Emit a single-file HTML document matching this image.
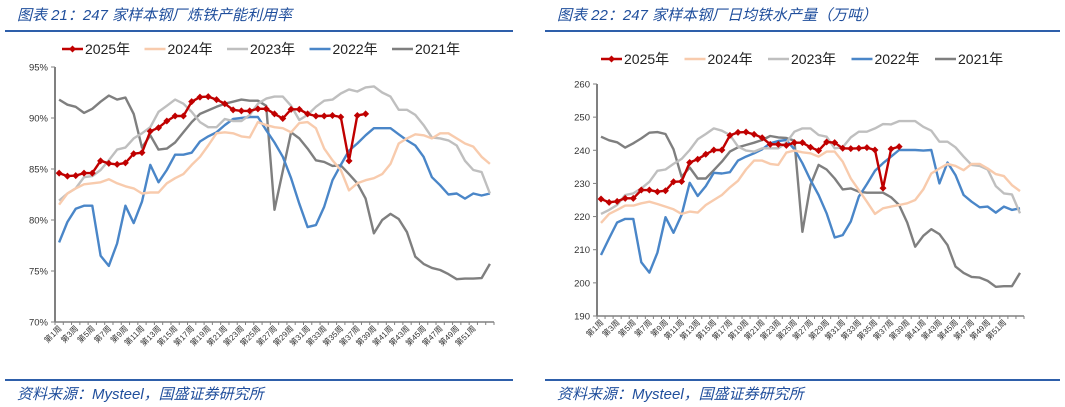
<!DOCTYPE html>
<html><head><meta charset="utf-8">
<style>
body{margin:0;background:#fff;width:1065px;height:407px;overflow:hidden;font-family:"Liberation Sans","Noto Sans CJK SC",sans-serif;}
.t{position:absolute;font-style:italic;color:#1f4e9c;font-size:15px;white-space:nowrap;font-family:"Liberation Sans","Noto Sans CJK SC",sans-serif;}
.hr{position:absolute;height:2px;background:#2e5faa;}
svg{position:absolute;left:0;top:0;}
</style></head><body>
<div class="t" style="left:17px;top:4px;">图表 21：247 家样本钢厂炼铁产能利用率</div>
<div class="hr" style="left:5px;top:30px;width:508px;"></div>
<div class="t" style="left:557px;top:4px;">图表 22：247 家样本钢厂日均铁水产量（万吨）</div>
<div class="hr" style="left:545px;top:30px;width:515px;"></div>
<div class="hr" style="left:5px;top:379px;width:508px;"></div>
<div class="hr" style="left:545px;top:379px;width:515px;"></div>
<div class="t" style="left:17px;top:383px;">资料来源：Mysteel，国盛证券研究所</div>
<div class="t" style="left:557px;top:383px;">资料来源：Mysteel，国盛证券研究所</div>
<svg id="svg" width="1065" height="407"></svg>
<script>
// ---- Left chart data (%) ----
const leftY2025 = [84.6,84.3,84.35,84.6,84.6,85.8,85.55,85.45,85.6,86.5,86.6,88.7,89.05,89.7,90.2,90.2,91.6,92.05,92.1,91.8,91.4,90.8,90.7,90.7,90.9,90.9,90.4,89.95,90.85,90.85,90.4,90.2,90.2,90.25,90.1,85.8,90.25,90.4];
const leftY2024 = [81.5,82.6,83.1,83.5,83.6,83.7,84.0,83.6,83.3,83.1,82.6,82.7,82.7,83.6,84.1,84.5,85.4,86.2,87.3,88.5,88.6,88.5,88.2,88.1,89.6,89.3,89.1,89.0,88.6,89.5,89.6,89.0,87.0,85.85,84.9,82.9,83.6,83.9,84.1,84.5,85.5,87.5,88.0,88.4,88.3,88.0,88.5,88.5,88.0,87.5,87.2,86.2,85.5];
const leftY2023 = [81.9,82.6,83.1,84.2,84.3,84.9,85.85,86.9,87.1,88.0,88.5,89.1,90.6,91.2,91.8,91.4,90.6,89.6,89.1,89.1,89.9,89.7,89.7,90.3,91.4,91.9,92.1,92.1,91.2,89.8,90.3,91.1,91.7,91.8,92.4,92.8,92.6,93.0,93.1,92.5,92.1,90.8,90.8,90.3,89.3,88.1,88.0,87.8,87.3,85.8,84.9,84.7,82.6];
const leftY2022 = [77.8,79.8,81.1,81.4,81.4,76.5,75.5,77.7,81.4,79.7,81.8,85.4,83.7,84.9,86.4,86.4,86.6,87.7,88.2,88.6,89.3,89.9,90.0,90.1,90.1,88.8,87.6,86.2,84.1,81.6,79.3,79.5,81.3,83.9,85.4,86.8,87.5,88.3,89.0,89.0,89.0,88.4,87.8,87.3,86.2,84.2,83.4,82.5,82.6,82.1,82.6,82.4,82.6];
const leftY2021 = [91.8,91.3,91.1,90.5,90.9,91.6,92.2,91.8,92.0,90.4,87.1,88.3,86.9,87.0,87.6,88.6,89.6,90.4,90.75,91.1,91.4,91.6,91.8,91.7,91.7,91.2,81.0,84.8,88.6,88.0,87.0,85.85,85.7,85.3,85.35,84.5,83.6,82.1,78.7,80.0,80.6,80.1,78.8,76.4,75.7,75.3,75.1,74.7,74.2,74.25,74.25,74.3,75.7];
const leftTicks = [70,75,80,85,90,95];
// ---- Right chart data (万吨) ----
const rightY2025 = [225.3,224.3,224.6,225.5,225.5,228,228,227.5,227.8,230.5,230.6,236.3,237.3,238.8,240.1,240.1,244.5,245.4,245.5,244.8,243.8,241.8,241.8,241.5,242.3,242.3,240.9,239.9,242.5,242.3,240.6,240.5,240.6,240.8,240.1,228.6,240.4,241.1];
const rightY2024 = [218.1,220.8,222.0,223.3,223.3,224.0,224.5,223.8,223.0,222.2,220.8,221.5,221.2,223.5,225.0,226.5,228.8,230.8,234.2,236.9,236.9,235.9,235.6,239.3,239.9,239.4,239.1,238.1,239.6,239.6,236.6,231.5,228.0,224.5,220.8,222.5,223.0,223.5,224.0,225.0,228.2,233.0,234.5,235.9,235.3,234.0,235.9,235.9,234.5,232.8,232.2,229.5,227.7];
const rightY2023 = [220.8,222.0,223.5,226.5,227.0,228.5,230.5,233.8,234.2,235.9,237.4,240.1,243.3,244.9,246.6,245.9,244.6,241.1,239.9,239.6,240.6,240.6,240.6,242.3,245.6,246.6,246.6,244.6,244.1,240.6,240.9,243.9,245.6,245.6,246.6,247.9,247.8,248.8,248.8,248.8,247.1,245.9,242.6,242.6,240.9,238.1,235.6,235.3,234.2,229.2,227.0,226.7,221.0];
const rightY2022 = [208.4,213.4,218.2,219.3,219.3,206.2,203.1,209.1,219.8,215.1,220.5,230.2,226.2,229.2,233.2,233.0,233.4,236.9,238.1,239.1,240.3,242.1,242.8,243.1,240.3,236.1,231.0,226.5,221.0,213.7,214.4,218.5,226.0,229.8,233.8,236.1,238.1,240.1,240.1,240.1,239.9,240.1,230.0,236.3,232.5,226.5,224.5,222.8,223.0,221.2,223.0,222.0,222.5];
const rightY2021 = [244.1,243.0,242.4,240.8,242.1,243.6,245.3,245.5,244.9,240.3,232.0,234.8,231.5,231.5,234.0,236.6,239.6,240.9,241.6,242.3,243.1,244.3,243.9,243.7,242.9,215.4,229.5,235.6,234.2,231.5,228.2,228.5,227.5,227.2,227.2,227.2,225.8,223.5,218.2,210.9,214.2,216.2,214.7,211.4,204.9,203.0,201.8,201.6,200.6,198.8,199.0,199.0,203.0];
const rightTicks = [190,200,210,220,230,240,250,260];
const weeks = Array.from({length:53},(_,i)=>'第'+(i+1)+'周');
const seriesNames = ['2025年','2024年','2023年','2022年','2021年'];
const colors = ['#c00000','#f8cbad','#bfbfbf','#4a86c8','#7f7f7f'];

const NS='http://www.w3.org/2000/svg';
const svg=document.getElementById('svg');
function mk(tag,attrs,parent){const e=document.createElementNS(NS,tag);for(const k in attrs)e.setAttribute(k,attrs[k]);(parent||svg).appendChild(e);return e;}

function drawChart(cfg){
  const g=mk('g',{});
  
  
  const n=weeks.length;
  const step=(cfg.x1-cfg.x0)/n;
  const xS=i=>cfg.x0+step*(i+0.5);
  const yS=v=>cfg.yBot-(v-cfg.vMin)/(cfg.vMax-cfg.vMin)*(cfg.yBot-cfg.yTop);
  const ya=mk('line',{x1:cfg.x0,y1:cfg.yTop,x2:cfg.x0,y2:cfg.yBot,stroke:'#808080','stroke-width':2},g);
  
  
  cfg.ticks.forEach(t=>{
    const y=yS(t);
    mk('line',{x1:cfg.x0-4,y1:y,x2:cfg.x0,y2:y,stroke:'#808080','stroke-width':1},g);
    const tx=mk('text',{x:cfg.x0-7,y:y+3.5,'font-size':9.5,'text-anchor':'end',fill:'#333'},g);
    tx.textContent=cfg.fmt(t);
    
    
  });
  const xa=mk('line',{x1:cfg.x0,y1:cfg.yBot,x2:cfg.x1,y2:cfg.yBot,stroke:'#808080','stroke-width':1.5},g);
  
  
  for(let i=0;i<=n;i++){const x=cfg.x0+step*i;mk('line',{x1:x,y1:cfg.yBot,x2:x,y2:cfg.yBot+3,stroke:'#808080','stroke-width':1},g);}
  weeks.forEach((w,i)=>{
    if(i%2 || i>50) return;
    const x=xS(i)+3, y=cfg.yBot+7;
    const tx=mk('text',{x:x,y:y,'font-size':8,'text-anchor':'end',fill:'#333',transform:`rotate(-45 ${x} ${y})`},g);
    tx.textContent=w;
    
    
  });
  for(let s=cfg.series.length-1;s>=0;s--){
    const d=cfg.series[s];
    const pts=d.map((v,i)=>xS(i).toFixed(1)+','+yS(v).toFixed(1)).join(' ');
    const pl=mk('polyline',{points:pts,fill:'none',stroke:colors[s],'stroke-width':2.4,'stroke-linejoin':'round'},g);
    
    
    if(s===0){
      d.forEach((v,i)=>{
        const x=xS(i),y=yS(v);
        const m=mk('polygon',{points:`${x},${y-3.5} ${x+3.5},${y} ${x},${y+3.5} ${x-3.5},${y}`,fill:colors[0]},g);
        
        
      });
    }
  }
  seriesNames.forEach((nm,s)=>{
    const lx=cfg.legX+s*cfg.legStep, ly=cfg.legY;
    const lg=mk('g',{},g);
    
    
    mk('line',{x1:lx,y1:ly,x2:lx+21,y2:ly,stroke:colors[s],'stroke-width':2.4},lg);
    if(s===0) mk('polygon',{points:`${lx+10.5},${ly-3.5} ${lx+14},${ly} ${lx+10.5},${ly+3.5} ${lx+7},${ly}`,fill:colors[0]},lg);
    const tx=mk('text',{x:lx+23,y:ly+5,'font-size':14,fill:'#222'},lg);
    tx.textContent=nm;
  });
}
drawChart({name:'left-utilization-chart',x0:55,x1:494,yTop:67,yBot:322,vMin:70,vMax:95,ticks:leftTicks,fmt:t=>t+'%',
  series:[leftY2025,leftY2024,leftY2023,leftY2022,leftY2021],legX:62,legY:49,legStep:82.5});
drawChart({name:'right-hot-metal-chart',x0:597,x1:1024,yTop:84,yBot:316,vMin:190,vMax:260,ticks:rightTicks,fmt:t=>String(t),
  series:[rightY2025,rightY2024,rightY2023,rightY2022,rightY2021],legX:601,legY:59,legStep:83.5});
</script>
</body></html>
